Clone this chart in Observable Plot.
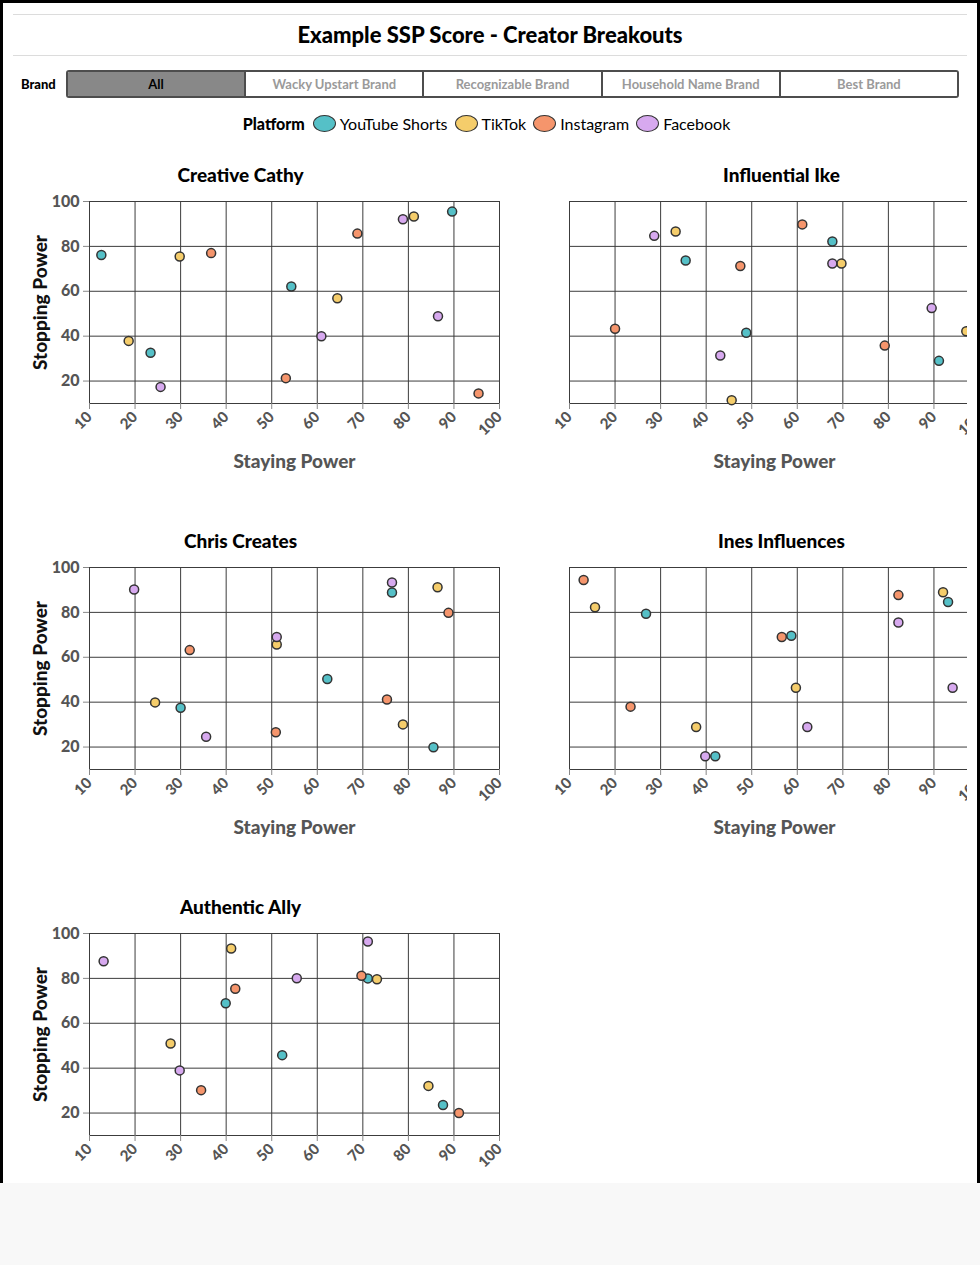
<!DOCTYPE html>
<html>
<head>
<meta charset="utf-8">
<script src="https://cdn.jsdelivr.net/npm/d3@7"></script>
<script src="https://cdn.jsdelivr.net/npm/@observablehq/plot@0.6"></script>
<style>
  body { margin: 0; background: #f8f8f8; font-family: Lato, "Open Sans", sans-serif; width: 980px; height: 1265px; position: relative; overflow: hidden; }
  #frame { position: absolute; left: 0; top: 0; width: 980px; height: 1183px; box-sizing: border-box; background: #fff; border: 3px solid #000; border-bottom: none; }
  .hr { position: absolute; left: 13px; width: 954px; height: 1px; background: #dcdcdc; }
  #title { position: absolute; left: 0; width: 980px; top: 20px; line-height: 30px; text-align: center; font-weight: 900; font-size: 22px; color: #000; }
  #brandLabel { position: absolute; left: 21px; top: 75px; line-height: 18px; font-size: 13px; font-weight: 900; color: #000; }
  #brand { position: absolute; left: 66px; top: 70px; width: 893px; height: 28px; box-sizing: border-box; border: 2px solid #4d4d4d; border-radius: 3px; display: flex; overflow: hidden; }
  #brand div { flex: 1; text-align: center; font-size: 13px; font-weight: 700; color: #9a9a9a; line-height: 24px; border-left: 2px solid #4d4d4d; background: #fff; }
  #brand div:first-child { border-left: none; background: #888; color: #000; }
  #legend { position: absolute; left: 0; width: 980px; top: 112px; height: 22px; display: flex; justify-content: center; align-items: center; font-size: 16px; color: #000; }
  #legend .ttl { font-weight: 900; margin-right: 8px; }
  #legend .sw { display: inline-block; width: 21px; height: 15px; border: 1.5px solid #333; border-radius: 50%; margin-right: 4px; }
  #legend .lab { margin-right: 7px; }
  #charts { position: absolute; left: 0; top: 140px; width: 967px; height: 1043px; overflow: hidden; }
  #charts svg { position: absolute; }
</style>
</head>
<body>
<div id="frame"></div>
<div class="hr" style="top:14px"></div>
<div class="hr" style="top:55px"></div>
<div id="title">Example SSP Score - Creator Breakouts</div>
<div id="brandLabel">Brand</div>
<div id="brand"></div>
<div id="legend"></div>
<div id="charts"></div>
<script>
// ---------- data ----------
const brands = ["All", "Wacky Upstart Brand", "Recognizable Brand", "Household Name Brand", "Best Brand"];
const platforms = ["YouTube Shorts", "TikTok", "Instagram", "Facebook"];
const platformColors = ["#55c0c7", "#f5cd6b", "#f5956c", "#d7a9ef"];
const creators = ["Creative Cathy", "Influential Ike", "Chris Creates", "Ines Influences", "Authentic Ally"];
const xTicks = [10, 20, 30, 40, 50, 60, 70, 80, 90, 100];
const yTicks = [20, 40, 60, 80, 100];
const xTitle = "Staying Power";
const yTitle = "Stopping Power";

// platform index of each point (0 YouTube Shorts, 1 TikTok, 2 Instagram, 3 Facebook)
const pointPlatform = [0,0,0,0, 1,1,1,1, 2,2,2,2, 3,3,3,3];

const cathyStaying  = [12.6, 23.4, 54.3, 89.6,  18.6, 29.8, 64.4, 81.2,  36.7, 68.8, 53.1, 95.4,  25.6, 60.9, 78.8, 86.5];
const cathyStopping = [76.2, 32.6, 62.1, 95.5,  37.9, 75.5, 56.9, 93.3,  77.0, 85.7, 21.3, 14.5,  17.4, 40.0, 92.1, 48.9];

const ikeStaying  = [35.5, 67.7, 48.8, 91.1,  33.3, 69.7, 45.6, 97.1,  47.5, 61.1, 20.0, 79.2,  28.6, 67.7, 43.1, 89.5];
const ikeStopping = [73.7, 82.2, 41.5, 29.0,  86.6, 72.4, 11.5, 42.2,  71.3, 89.8, 43.3, 35.8,  84.7, 72.4, 31.4, 52.5];

const chrisStaying  = [76.4, 62.2, 30.0, 85.5,  86.4, 51.1, 24.4, 78.8,  88.8, 32.0, 75.3, 50.9,  19.8, 76.4, 51.1, 35.6];
const chrisStopping = [88.9, 50.3, 37.5, 19.9,  91.2, 65.7, 39.9, 30.1,  79.8, 63.2, 41.2, 26.6,  90.2, 93.3, 69.0, 24.6];

const inesStaying  = [26.8, 93.1, 58.7, 42.0,  15.6, 92.0, 59.7, 37.8,  13.1, 82.2, 56.6, 23.4,  82.2, 94.1, 62.2, 39.8];
const inesStopping = [79.4, 84.6, 69.6, 15.9,  82.3, 89.0, 46.4, 28.9,  94.4, 87.7, 69.0, 38.0,  75.5, 46.4, 28.9, 15.9];

const allyStaying  = [39.9, 71.1, 52.3, 87.6,  41.1, 73.1, 27.8, 84.4,  69.7, 42.0, 34.5, 91.1,  13.1, 71.1, 55.5, 29.8];
const allyStopping = [68.9, 80.0, 45.8, 23.6,  93.3, 79.6, 51.0, 32.1,  81.2, 75.4, 30.2, 20.0,  87.6, 96.4, 80.1, 39.0];

const stayingByCreator = [cathyStaying, ikeStaying, chrisStaying, inesStaying, allyStaying];
const stoppingByCreator = [cathyStopping, ikeStopping, chrisStopping, inesStopping, allyStopping];

// ---------- header controls ----------
const brandEl = document.getElementById("brand");
brands.forEach(b => { const d = document.createElement("div"); d.textContent = b; brandEl.appendChild(d); });

const legendEl = document.getElementById("legend");
const lt = document.createElement("span"); lt.className = "ttl"; lt.textContent = "Platform"; legendEl.appendChild(lt);
platforms.forEach((p, i) => {
  const s = document.createElement("span"); s.className = "sw"; s.style.background = platformColors[i]; legendEl.appendChild(s);
  const l = document.createElement("span"); l.className = "lab"; l.textContent = p; legendEl.appendChild(l);
});

// ---------- panels ----------
const charts = document.getElementById("charts");
const W = 520, H = 330, ML = 89, MR = 21, MT = 51, MB = 77;
const gridColor = "#3c3c3c";

creators.forEach((name, ci) => {
  const col = ci % 2, row = Math.floor(ci / 2);
  const data = pointPlatform.map((p, i) => ({platform: platforms[p], staying: stayingByCreator[ci][i], stopping: stoppingByCreator[ci][i]}));
  const titleDx = col === 0 ? (240 - ML) : (301 - ML);
  const lastRow = row === 2;
  const marks = [
    Plot.gridX({ticks: xTicks, stroke: gridColor, strokeOpacity: 1, strokeWidth: 1}),
    Plot.gridY({ticks: yTicks, stroke: gridColor, strokeOpacity: 1, strokeWidth: 1}),
    Plot.frame({anchor: "bottom", stroke: gridColor, strokeWidth: 1}),
    Plot.axisX({ticks: xTicks, tickSize: 6, tickPadding: 5, tickRotate: -45, textAnchor: "end", stroke: "#888", fill: "#555", fontSize: 15, fontWeight: "900", label: null}),
    col === 0 ? Plot.axisY({ticks: yTicks, tickSize: 6, tickPadding: 4, stroke: "#888", fill: "#555", fontSize: 16, fontWeight: "900", label: null}) : null,
    Plot.dot(data, {x: "staying", y: "stopping", fill: "platform", r: 4.5, stroke: "#333", strokeWidth: 1.5}),
    Plot.text([name], {frameAnchor: "top-left", dx: titleDx, dy: -26, textAnchor: "middle", lineAnchor: "middle", fontSize: 19, fontWeight: "900", fill: "#000"}),
    lastRow ? null : Plot.text([xTitle], {frameAnchor: "bottom", dy: 58, textAnchor: "middle", lineAnchor: "middle", fontSize: 19, fontWeight: "900", fill: "#555"}),
    col === 0 ? Plot.text([yTitle], {frameAnchor: "left", dx: -49, rotate: -90, textAnchor: "middle", lineAnchor: "middle", fontSize: 19, fontWeight: "900", fill: "#111"}) : null
  ].filter(Boolean);
  const svg = Plot.plot({
    width: W, height: H,
    marginLeft: ML, marginRight: MR, marginTop: MT, marginBottom: MB,
    x: {domain: [10, 100], axis: null},
    y: {domain: [10, 100], axis: null},
    color: {domain: platforms, range: platformColors},
    style: {fontFamily: "Lato, 'Open Sans', sans-serif", background: "transparent", overflow: "visible"},
    marks
  });
  svg.style.left = (col * 480) + "px";
  svg.style.top = (10 + row * 366) + "px";
  charts.appendChild(svg);
});
</script>
</body>
</html>
